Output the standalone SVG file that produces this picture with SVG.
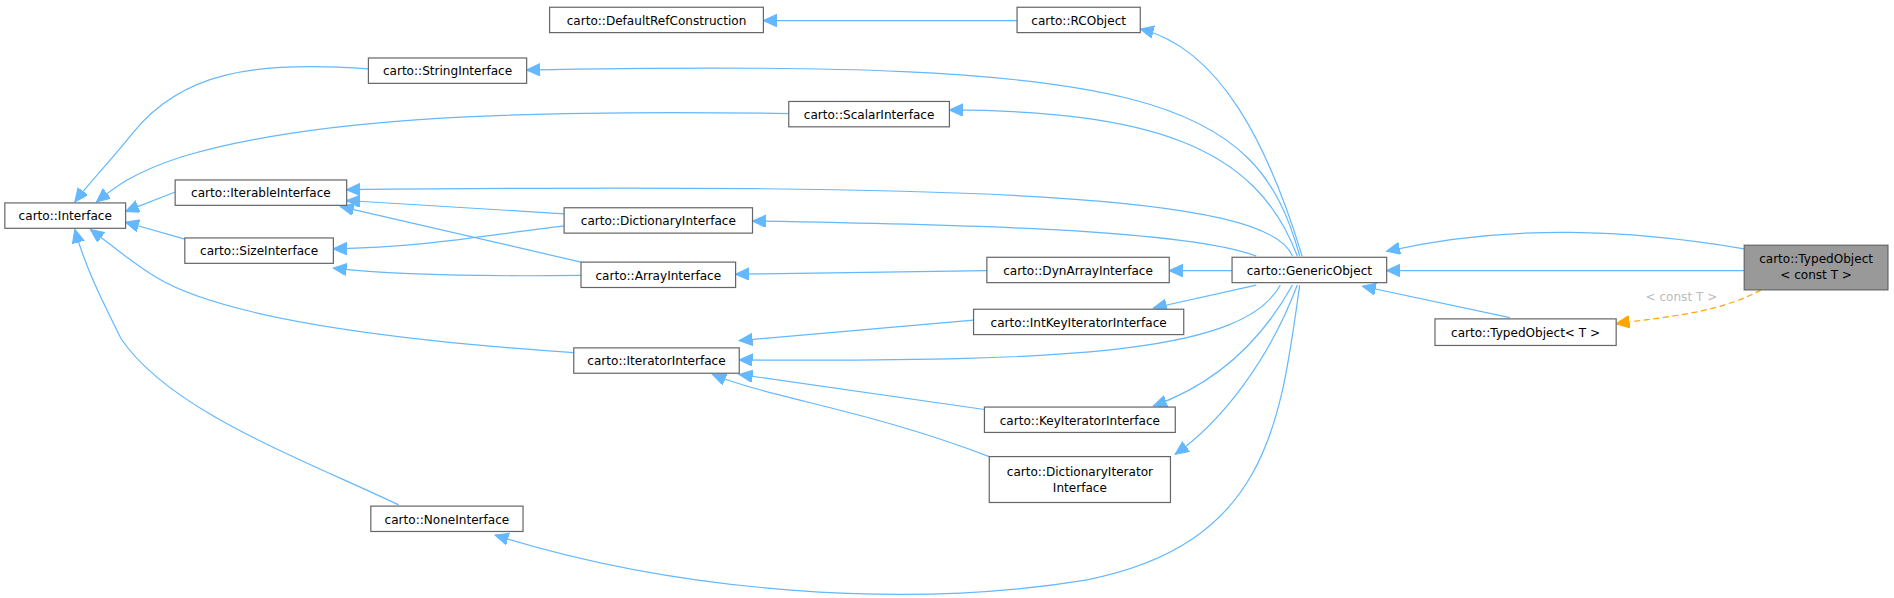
<svg xmlns="http://www.w3.org/2000/svg" width="1894" height="598" viewBox="0 0 1894 598">
<style>
.n rect{fill:#fff;stroke:#666;stroke-width:1}
.n text{font-family:"DejaVu Sans",sans-serif;font-size:10px;fill:#000;text-anchor:middle}
.e{fill:none;stroke:#63b8ff;stroke-width:1}
.d{fill:none;stroke:#ffa500;stroke-width:1;stroke-dasharray:5,3}
.lbl{font-family:"DejaVu Sans",sans-serif;font-size:10px;fill:#bbb;text-anchor:middle}
</style>
<defs>
<marker id="a" markerUnits="userSpaceOnUse" markerWidth="12" markerHeight="12" refX="11" refY="5" orient="auto"><path d="M0,0 L11,5 L0,10 z" fill="#63b8ff" stroke="#63b8ff"/></marker>
<marker id="o" markerUnits="userSpaceOnUse" markerWidth="12" markerHeight="12" refX="11" refY="5" orient="auto"><path d="M0,0 L11,5 L0,10 z" fill="#ffa500" stroke="#ffa500"/></marker>
</defs>
<rect width="1894" height="598" fill="#fff"/>
<g transform="scale(1.2079)">
<g id="connectors">
<path class="e" marker-end="url(#a)" d="M842,17 L632,17"/>
<path class="e" marker-end="url(#a)" d="M1078,212 C1050,120 1010,40 944,24"/>
<path class="e" marker-end="url(#a)" d="M1076,212 C1040,80 950,48 436,58"/>
<path class="e" marker-end="url(#a)" d="M1074,212 C1040,120 950,92 786,91"/>
<path class="e" marker-end="url(#a)" d="M1070,212 C1050,160 800,152 287,157"/>
<path class="e" marker-end="url(#a)" d="M1040,212 C980,190 800,186 623,183"/>
<path class="e" marker-end="url(#a)" d="M1020,224 L968,224"/>
<path class="e" marker-end="url(#a)" d="M1040,236 L955,255"/>
<path class="e" marker-end="url(#a)" d="M1060,236 C1030,290 900,300 612,298"/>
<path class="e" marker-end="url(#a)" d="M1070,236 C1040,290 1000,320 955,336"/>
<path class="e" marker-end="url(#a)" d="M1074,236 C1050,300 1010,350 973,376"/>
<path class="e" marker-end="url(#a)" d="M1076,236 C1060,350 1050,450 900,480 C750,505 560,490 410,443"/>
<path class="e" marker-end="url(#a)" d="M1444,206 C1350,190 1250,185 1148,208"/>
<path class="e" marker-end="url(#a)" d="M1444,224 L1148,224"/>
<path class="e" marker-end="url(#a)" d="M1250,263 L1128,237"/>
<path class="d" marker-end="url(#o)" d="M1458,240 C1420,260 1380,262 1338,268"/>
<text class="lbl" x="1392" y="249">&lt; const T &gt;</text>
<path class="e" marker-end="url(#a)" d="M305,57 C210,50 150,60 110,110 C90,135 75,150 62,167"/>
<path class="e" marker-end="url(#a)" d="M653,94 C400,90 250,100 150,130 C110,143 95,155 80,167"/>
<path class="e" marker-end="url(#a)" d="M145,159 L104,175"/>
<path class="e" marker-end="url(#a)" d="M153,198 L104,184"/>
<path class="e" marker-end="url(#a)" d="M475,292 C300,280 180,260 130,230 C110,218 95,205 75,190"/>
<path class="e" marker-end="url(#a)" d="M330,418 C250,380 140,340 100,280 C85,250 70,220 62,190"/>
<path class="e" marker-end="url(#a)" d="M467,177 L287,166"/>
<path class="e" marker-end="url(#a)" d="M481,217 L282,171"/>
<path class="e" marker-end="url(#a)" d="M467,187 C400,195 350,205 276,206"/>
<path class="e" marker-end="url(#a)" d="M481,228 C400,229 330,228 276,222"/>
<path class="e" marker-end="url(#a)" d="M817,224 L609,227"/>
<path class="e" marker-end="url(#a)" d="M806,265 L612,282"/>
<path class="e" marker-end="url(#a)" d="M815,339 L612,310"/>
<path class="e" marker-end="url(#a)" d="M819,378 C720,340 640,330 590,310"/>
</g>
<g id="DefaultRefConstruction" class="n"><rect x="455" y="6" width="177" height="21"/><text x="543.5" y="20.5">carto::DefaultRefConstruction</text></g>
<g id="RCObject" class="n"><rect x="842" y="6" width="102" height="21"/><text x="893" y="20.5">carto::RCObject</text></g>
<g id="StringInterface" class="n"><rect x="305" y="48" width="131" height="21"/><text x="370.5" y="62.5">carto::StringInterface</text></g>
<g id="ScalarInterface" class="n"><rect x="653" y="84" width="133" height="21"/><text x="719.5" y="98.5">carto::ScalarInterface</text></g>
<g id="Interface" class="n"><rect x="4" y="168" width="100" height="21"/><text x="54" y="182.5">carto::Interface</text></g>
<g id="IterableInterface" class="n"><rect x="145" y="149" width="142" height="21"/><text x="216" y="163.5">carto::IterableInterface</text></g>
<g id="SizeInterface" class="n"><rect x="153" y="197" width="123" height="21"/><text x="214.5" y="211.5">carto::SizeInterface</text></g>
<g id="DictionaryInterface" class="n"><rect x="467" y="172" width="156" height="21"/><text x="545" y="186.5">carto::DictionaryInterface</text></g>
<g id="ArrayInterface" class="n"><rect x="481" y="217" width="128" height="21"/><text x="545" y="231.5">carto::ArrayInterface</text></g>
<g id="DynArrayInterface" class="n"><rect x="817" y="213" width="151" height="21"/><text x="892.5" y="227.5">carto::DynArrayInterface</text></g>
<g id="GenericObject" class="n"><rect x="1020" y="213" width="128" height="21"/><text x="1084" y="227.5">carto::GenericObject</text></g>
<g id="TypedObjectConstT" class="n"><rect x="1444" y="203" width="119" height="37" style="fill:#999"/><text x="1503.5" y="218">carto::TypedObject</text><text x="1503.5" y="231">&lt; const T &gt;</text></g>
<g id="IntKeyIteratorInterface" class="n"><rect x="806" y="256" width="174" height="21"/><text x="893" y="270.5">carto::IntKeyIteratorInterface</text></g>
<g id="IteratorInterface" class="n"><rect x="475" y="288" width="137" height="21"/><text x="543.5" y="302.5">carto::IteratorInterface</text></g>
<g id="TypedObjectT" class="n"><rect x="1188" y="264" width="150" height="22"/><text x="1263" y="279">carto::TypedObject&lt; T &gt;</text></g>
<g id="KeyIteratorInterface" class="n"><rect x="815" y="337" width="158" height="21"/><text x="894" y="351.5">carto::KeyIteratorInterface</text></g>
<g id="DictionaryIteratorInterface" class="n"><rect x="819" y="378" width="150" height="38"/><text x="894" y="394">carto::DictionaryIterator</text><text x="894" y="407">Interface</text></g>
<g id="NoneInterface" class="n"><rect x="307" y="419" width="126" height="21"/><text x="370" y="433.5">carto::NoneInterface</text></g>
</g>
</svg>
